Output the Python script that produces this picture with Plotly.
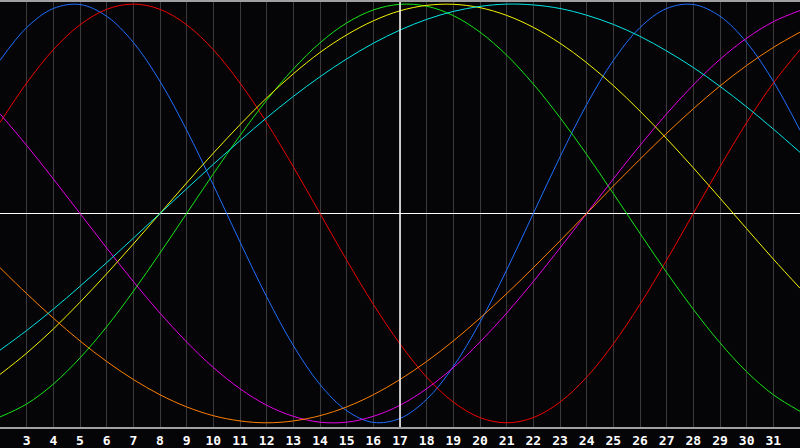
import plotly.graph_objects as go

# day numbers across the bottom, and the marked "today"
days = [2, 3, 4, 5, 6, 7, 8, 9, 10, 11, 12, 13, 14, 15, 16, 17,
        18, 19, 20, 21, 22, 23, 24, 25, 26, 27, 28, 29, 30, 31, 32]
tick_days = [3, 4, 5, 6, 7, 8, 9, 10, 11, 12, 13, 14, 15, 16, 17,
             18, 19, 20, 21, 22, 23, 24, 25, 26, 27, 28, 29, 30, 31]
today = 17

# cycle values (percent), one per day
physical = [73.1, 88.8, 97.9, 99.8, 94.2, 81.7, 63.1, 39.8, 13.6, -13.6, -39.8, -63.1, -81.7, -94.2, -99.8, -97.9,
            -88.8, -73.1, -52.0, -27.0, 0, 27.0, 52.0, 73.1, 88.8, 97.9, 99.8, 94.2, 81.7, 63.1, 39.8]
emotional = [43.4, 62.3, 78.2, 90.1, 97.5, 100, 97.5, 90.1, 78.2, 62.3, 43.4, 22.3, 0, -22.3, -43.4, -62.3,
             -78.2, -90.1, -97.5, -100, -97.5, -90.1, -78.2, -62.3, -43.4, -22.3, 0, 22.3, 43.4, 62.3, 78.2]
intellectual = [-97.2, -91.0, -81.5, -69.0, -54.1, -37.2, -18.9, 0, 18.9, 37.2, 54.1, 69.0, 81.5, 91.0, 97.2, 99.9,
                99.0, 94.5, 86.6, 75.6, 61.8, 45.8, 28.2, 9.5, -9.5, -28.2, -45.8, -61.8, -75.6, -86.6, -94.5]
intuitive = [47.6, 32.5, 16.5, 0, -16.5, -32.5, -47.6, -61.4, -73.6, -83.7, -91.6, -96.9, -99.7, -99.7, -96.9, -91.6,
             -83.7, -73.6, -61.4, -47.6, -32.5, -16.5, 0, 16.5, 32.5, 47.6, 61.4, 73.6, 83.7, 91.6, 96.9]
aesthetic = [-76.9, -66.7, -55.2, -42.4, -28.8, -14.6, 0, 14.6, 28.8, 42.4, 55.2, 66.7, 76.9, 85.3, 92.0, 96.8,
             99.4, 99.9, 98.3, 94.6, 88.9, 81.3, 72.0, 61.1, 48.9, 35.7, 21.8, 7.3, -7.3, -21.8, -35.7]
awareness = [-25.9, -38.3, -50.0, -60.9, -70.7, -79.3, -86.6, -92.4, -96.6, -99.1, -100, -99.1, -96.6, -92.4, -86.6, -79.3,
             -70.7, -60.9, -50.0, -38.3, -25.9, -13.1, 0, 13.1, 25.9, 38.3, 50.0, 60.9, 70.7, 79.3, 86.6]
spiritual = [-65.3, -55.9, -45.7, -34.8, -23.5, -11.8, 0, 11.8, 23.5, 34.8, 45.7, 55.9, 65.3, 73.8, 81.3, 87.6,
             92.7, 96.5, 98.9, 100.0, 99.6, 97.9, 94.7, 90.3, 84.6, 77.6, 69.7, 60.7, 50.9, 40.3, 29.2]

series = [
    ("Physical", physical, "#1f6fff"),
    ("Emotional", emotional, "#f00000"),
    ("Intellectual", intellectual, "#14e614"),
    ("Intuitive", intuitive, "#e600e6"),
    ("Aesthetic", aesthetic, "#f5f500"),
    ("Awareness", awareness, "#ff7f00"),
    ("Spiritual", spiritual, "#00e6e6"),
]

fig = go.Figure()
for name, vals, col in series:
    fig.add_trace(go.Scatter(x=days, y=vals, name=name, mode="lines",
                             line=dict(color=col, width=1, shape="spline", smoothing=1.0),
                             hoverinfo="skip"))

fig.add_vline(x=today, line_color="white", line_width=1.5)

fig.update_layout(
    width=800, height=448,
    margin=dict(l=0, r=0, t=0, b=20),
    paper_bgcolor="#050508", plot_bgcolor="#050508",
    showlegend=False,
)
fig.update_xaxes(range=[2, 32], tickvals=tick_days, ticktext=[str(d) for d in tick_days],
                 showgrid=True, gridcolor="#3a3a3a", gridwidth=1,
                 showline=True, linecolor="#a0a0a0", linewidth=2, mirror=True,
                 ticks="", tickfont=dict(family="DejaVu Sans Mono", size=13, color="white", weight="bold"),
                 zeroline=False)
fig.update_yaxes(range=[-102, 101], showgrid=False, showticklabels=False,
                 showline=True, linecolor="#a0a0a0", linewidth=2,
                 zeroline=True, zerolinecolor="white", zerolinewidth=1)

# page body has a default 8px margin; drop it so the chart fills the window
fig.write_html("out.html", config={"displayModeBar": False},
               post_script="document.body.style.margin='0';document.body.style.background='#050508';")
